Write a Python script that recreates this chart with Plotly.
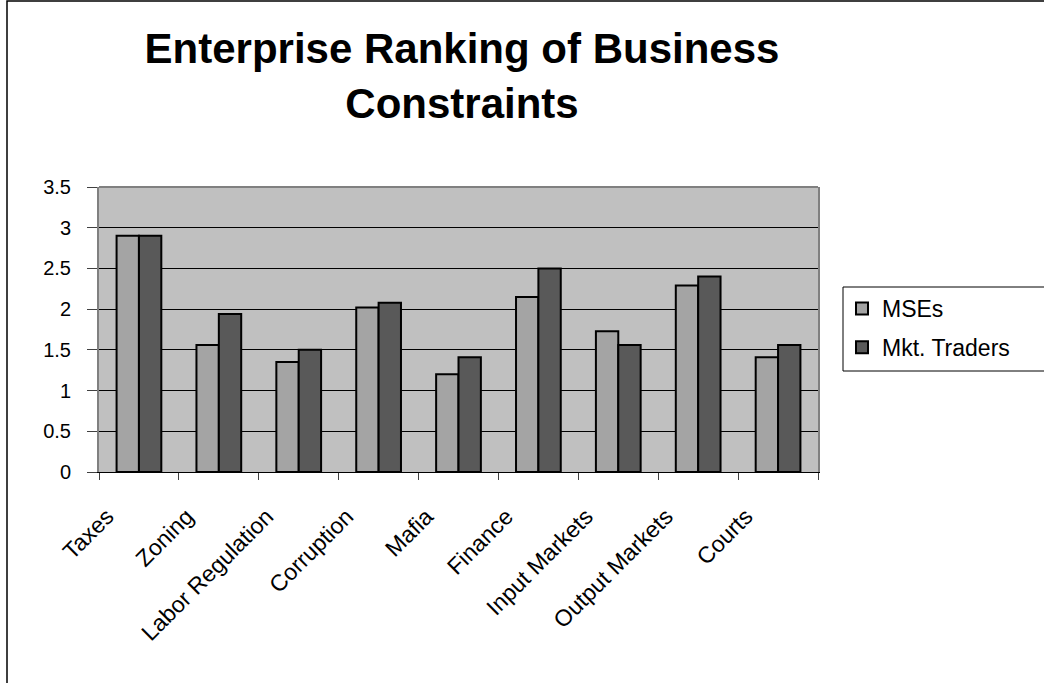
import plotly.graph_objects as go

categories = ["Taxes", "Zoning", "Labor Regulation", "Corruption", "Mafia",
              "Finance", "Input Markets", "Output Markets", "Courts"]
mses = [2.9, 1.56, 1.35, 2.02, 1.2, 2.15, 1.73, 2.29, 1.41]
mkt_traders = [2.9, 1.94, 1.5, 2.08, 1.41, 2.5, 1.56, 2.4, 1.56]
series_names = ["MSEs", "Mkt. Traders"]
y_ticks = [0, 0.5, 1, 1.5, 2, 2.5, 3, 3.5]
y_tick_text = ["0", "0.5", "1", "1.5", "2", "2.5", "3", "3.5"]

FONT = "Arial, 'Liberation Sans', sans-serif"
W, H = 1044, 683
L, R, T, B = 99, 226, 187, 211
pw = W - L - R
ph = H - T - B


def px_x(px):
    return (px - L) / pw


def px_y(py):
    return (H - B - py) / ph


fig = go.Figure()
fig.add_trace(go.Bar(x=categories, y=mses, name=series_names[0], legendgroup="a",
                     marker=dict(color="#A4A4A4", line=dict(color="#000000", width=2))))
fig.add_trace(go.Bar(x=categories, y=mkt_traders, name=series_names[1], legendgroup="b",
                     marker=dict(color="#595959", line=dict(color="#000000", width=2))))

shapes = [
    # outer chart border
    dict(type="rect", xref="paper", yref="paper",
         x0=px_x(7), x1=px_x(W + 20), y0=px_y(H + 20), y1=px_y(1),
         line=dict(color="#000000", width=1.5), fillcolor="rgba(0,0,0,0)", layer="below"),
    # top border of plot area
    dict(type="line", xref="paper", yref="paper", x0=0, x1=1, y0=1, y1=1,
         line=dict(color="#808080", width=2)),
    # legend box
    dict(type="rect", xref="paper", yref="paper",
         x0=px_x(843), x1=px_x(W + 10), y0=px_y(371), y1=px_y(287),
         line=dict(color="#000000", width=1), fillcolor="rgba(0,0,0,0)"),
]

fig.update_layout(
    width=W, height=H,
    margin=dict(l=L, r=R, t=T, b=B),
    paper_bgcolor="#FFFFFF",
    plot_bgcolor="#C0C0C0",
    barmode="group",
    bargap=0.44,
    bargroupgap=0,
    font=dict(family=FONT, color="#000000"),
    title=dict(text="Enterprise Ranking of Business<br>Constraints",
               font=dict(family=FONT, size=42, color="#000000", weight="bold"),
               x=462 / W, xanchor="center", xref="container",
               y=1 - 63 / H, yanchor="top", yref="container"),
    legend=dict(x=px_x(842), xanchor="left", y=px_y(287), yanchor="top",
                font=dict(size=23, family=FONT), bgcolor="rgba(0,0,0,0)",
                borderwidth=0, tracegroupgap=6),
    shapes=shapes,
    xaxis=dict(type="category", showgrid=False, showline=True, linecolor="#000000",
               linewidth=1, ticks="outside", tickson="boundaries", ticklen=7,
               tickcolor="#404040", tickangle=-45, tickfont=dict(size=23, family=FONT),
               ticklabelshift=-32, ticklabelstandoff=21, zeroline=False),
    yaxis=dict(range=[0, 3.5], tickvals=y_ticks, ticktext=y_tick_text, showgrid=True,
               gridcolor="#000000", gridwidth=1, showline=True, linecolor="#808080",
               linewidth=2, mirror=True, ticks="outside", ticklen=10, tickcolor="#404040",
               tickfont=dict(size=20, family=FONT), ticklabelstandoff=12,
               zeroline=False),
)

fig.write_html("out.html", config={"displayModeBar": False},
               post_script="document.body.style.margin='0';")
